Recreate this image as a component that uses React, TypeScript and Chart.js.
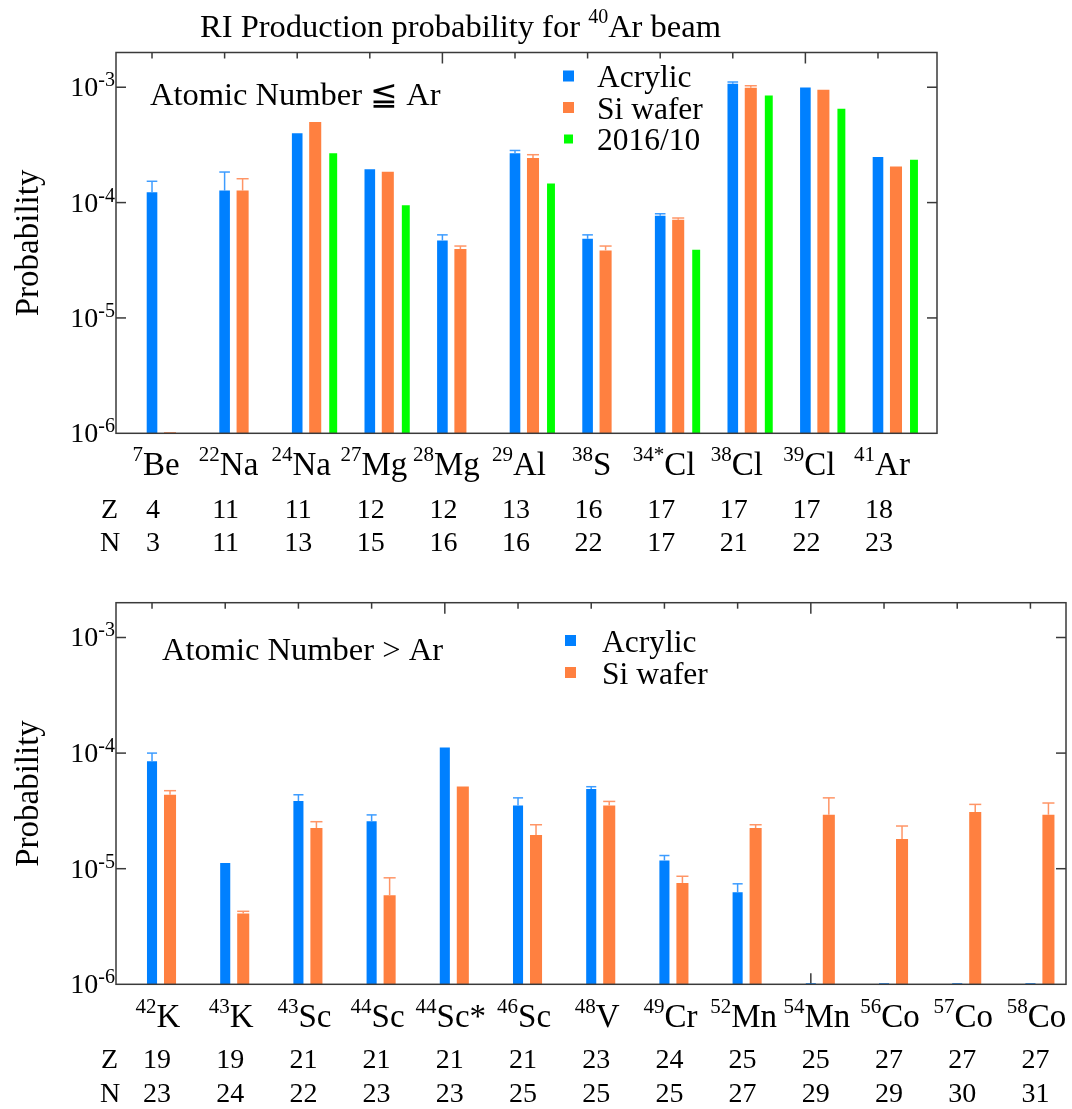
import React, { useEffect, useRef } from 'react';
import { Chart, registerables } from 'chart.js';

Chart.register(...registerables);

// ---------- data: top panel (Z <= Ar) ----------
const topMass = ['7', '22', '24', '27', '28', '29', '38', '34*', '38', '39', '41'];
const topElem = ['Be', 'Na', 'Na', 'Mg', 'Mg', 'Al', 'S', 'Cl', 'Cl', 'Cl', 'Ar'];
const topZ = [4, 11, 11, 12, 12, 13, 16, 17, 17, 17, 18];
const topN = [3, 11, 13, 15, 16, 16, 22, 17, 21, 22, 23];
const topAcrylic = [1.23e-4, 1.27e-4, 4.0e-4, 1.95e-4, 4.7e-5, 2.68e-4, 4.85e-5, 7.7e-5, 1.07e-3, 9.95e-4, 2.48e-4];
const topAcrylicErr = [1.53e-4, 1.84e-4, null, null, 5.25e-5, 2.83e-4, 5.25e-5, 8.0e-5, 1.11e-3, null, null];
const topSi = [1.02e-6, 1.27e-4, 5.0e-4, 1.85e-4, 3.95e-5, 2.43e-4, 3.85e-5, 7.1e-5, 9.9e-4, 9.5e-4, 2.06e-4];
const topSiErr = [null, 1.61e-4, null, null, 4.2e-5, 2.6e-4, 4.2e-5, 7.35e-5, 1.03e-3, null, null];
const top2016 = [null, null, 2.68e-4, 9.5e-5, null, 1.46e-4, null, 3.9e-5, 8.47e-4, 6.5e-4, 2.35e-4];

// ---------- data: bottom panel (Z > Ar) ----------
const botMass = ['42', '43', '43', '44', '44', '46', '48', '49', '52', '54', '56', '57', '58'];
const botElem = ['K', 'K', 'Sc', 'Sc', 'Sc*', 'Sc', 'V', 'Cr', 'Mn', 'Mn', 'Co', 'Co', 'Co'];
const botZ = [19, 19, 21, 21, 21, 21, 23, 24, 25, 25, 27, 27, 27];
const botN = [23, 24, 22, 23, 23, 25, 25, 25, 27, 29, 29, 30, 31];
const botAcrylic = [8.5e-5, 1.12e-5, 3.85e-5, 2.57e-5, 1.12e-4, 3.53e-5, 4.9e-5, 1.18e-5, 6.25e-6, 1.02e-6, 1.02e-6, 1.02e-6, 1.02e-6];
const botAcrylicErr = [1.0e-4, null, 4.36e-5, 2.92e-5, null, 4.1e-5, 5.12e-5, 1.3e-5, 7.4e-6, null, null, null, null];
const botSi = [4.36e-5, 4.09e-6, 2.25e-5, 5.9e-6, 5.15e-5, 1.96e-5, 3.53e-5, 7.53e-6, 2.25e-5, 2.93e-5, 1.81e-5, 3.09e-5, 2.93e-5];
const botSiErr = [4.73e-5, 4.28e-6, 2.55e-5, 8.34e-6, null, 2.4e-5, 3.82e-5, 8.6e-6, 2.4e-5, 4.1e-5, 2.34e-5, 3.6e-5, 3.7e-5];

const yExponents = [-6, -5, -4, -3];

const SERIF = "'Liberation Serif', 'Times New Roman', serif";
const BLUE = '#0080ff';
const ORANGE = '#ff8040';
const GREEN = '#00ff00';
const BLUE_ERR = '#3d9cff';
const ORANGE_ERR = '#ff9566';
const FRAME = '#3a3a3a';

type DS = { label: string; values: (number | null)[]; err: (number | null)[] | null; color: string; errColor: string; barPct: number; legendSize: number };

type Spec = {
  top: number;
  height: number;
  padding: { left: number; right: number; top: number; bottom: number };
  xMin: number;
  xMax: number;
  catPct: number;
  mass: string[];
  elem: string[];
  zs: number[];
  ns: number[];
  datasets: DS[];
  note: string;
  noteX: number;
  noteY: number;
  legendX: number;
  legendTextX: number;
  legendY: number;
  legendDy: number;
  labelY: number;
  labelOff: number;
  zY: number;
  nY: number;
  rowOff: number;
  titleY: number;
  title: boolean;
};

function drawSup(ctx: CanvasRenderingContext2D, x: number, y: number, sup: string, main: string, mainSize: number, supSize: number, rise: number, align: 'left' | 'center' | 'right') {
  ctx.font = `${supSize}px ${SERIF}`;
  const ws = ctx.measureText(sup).width;
  ctx.font = `${mainSize}px ${SERIF}`;
  const wm = ctx.measureText(main).width;
  const total = ws + wm;
  const x0 = align === 'left' ? x : align === 'center' ? x - total / 2 : x - total;
  ctx.textAlign = 'left';
  ctx.textBaseline = 'alphabetic';
  ctx.font = `${supSize}px ${SERIF}`;
  ctx.fillText(sup, x0, y - rise);
  ctx.font = `${mainSize}px ${SERIF}`;
  ctx.fillText(main, x0 + ws, y);
}

function line(ctx: CanvasRenderingContext2D, x1: number, y1: number, x2: number, y2: number) {
  ctx.beginPath();
  ctx.moveTo(x1, y1);
  ctx.lineTo(x2, y2);
  ctx.stroke();
}

function tickXs(chart: any, n: number): number[] {
  const meta = chart.getDatasetMeta(0);
  const out: number[] = [];
  for (let i = 0; i < n; i++) out.push(meta.data[i].x);
  return out;
}

function makePlugin(spec: Spec) {
  return {
    id: 'panelDecor',
    beforeDatasetsDraw(chart: any) {
      const { ctx, chartArea: a } = chart;
      const xs = tickXs(chart, spec.mass.length);
      ctx.save();
      ctx.strokeStyle = FRAME;
      ctx.lineWidth = 1.5;
      xs.forEach((x, i) => {
        if (i % 5 === 4) line(ctx, x, a.bottom, x, a.bottom - 11);
      });
      ctx.restore();
    },
    afterDatasetsDraw(chart: any) {
      const { ctx, chartArea: a, scales } = chart;
      const ys = scales.y;
      const xs = tickXs(chart, spec.mass.length);
      ctx.save();
      // error bars
      spec.datasets.forEach((ds, d) => {
        if (!ds.err) return;
        const meta = chart.getDatasetMeta(d);
        ds.err.forEach((e, i) => {
          if (e == null || ds.values[i] == null) return;
          const el = meta.data[i];
          const ye = ys.getPixelForValue(e);
          const w = el.width;
          ctx.strokeStyle = ds.errColor;
          ctx.lineWidth = 1.5;
          line(ctx, el.x, el.y, el.x, ye);
          line(ctx, el.x - w / 2, ye, el.x + w / 2, ye);
        });
      });
      // frame
      ctx.strokeStyle = FRAME;
      ctx.lineWidth = 1.5;
      ctx.strokeRect(a.left, a.top, a.right - a.left, a.bottom - a.top);
      // top ticks
      xs.forEach((x, i) => {
        line(ctx, x, a.top, x, a.top + (i % 5 === 4 ? 11 : 6));
      });
      // y ticks + labels
      ctx.fillStyle = '#000';
      yExponents.forEach((e) => {
        const y = ys.getPixelForValue(Math.pow(10, e));
        if (e !== -6) {
          line(ctx, a.left, y, a.left + 10, y);
          line(ctx, a.right - 10, y, a.right, y);
        }
        ctx.font = `20px ${SERIF}`;
        const wsup = ctx.measureText(String(e)).width;
        ctx.font = `28px ${SERIF}`;
        const w10 = ctx.measureText('10').width;
        const xr = a.left - 1;
        ctx.textAlign = 'left';
        ctx.textBaseline = 'alphabetic';
        ctx.fillText('10', xr - wsup - w10, y + 9);
        ctx.font = `20px ${SERIF}`;
        ctx.fillText(String(e), xr - wsup, y - 1);
      });
      // y title
      ctx.save();
      ctx.translate(38, (a.top + a.bottom) / 2);
      ctx.rotate(-Math.PI / 2);
      ctx.font = `33px ${SERIF}`;
      ctx.textAlign = 'center';
      ctx.textBaseline = 'alphabetic';
      ctx.fillText('Probability', 0, 0);
      ctx.restore();
      // note
      ctx.font = `32.5px ${SERIF}`;
      ctx.textAlign = 'left';
      ctx.fillText(spec.note, spec.noteX, spec.noteY);
      // legend
      spec.datasets.forEach((ds, d) => {
        const cy = spec.legendY + d * spec.legendDy;
        ctx.fillStyle = ds.color;
        const s = ds.legendSize;
        ctx.fillRect(spec.legendX + (11 - s) / 2, cy - s / 2, s, s);
        ctx.fillStyle = '#000';
        ctx.font = `31.5px ${SERIF}`;
        ctx.textAlign = 'left';
        ctx.fillText(ds.label, spec.legendTextX, cy + 11);
      });
      // category labels
      ctx.fillStyle = '#000';
      xs.forEach((x, i) => {
        drawSup(ctx, x + spec.labelOff, spec.labelY, spec.mass[i], spec.elem[i], 33, 21, 14, 'center');
        ctx.font = `28px ${SERIF}`;
        ctx.textAlign = 'center';
        ctx.fillText(String(spec.zs[i]), x + spec.rowOff, spec.zY);
        ctx.fillText(String(spec.ns[i]), x + spec.rowOff, spec.nY);
      });
      ctx.font = `28px ${SERIF}`;
      ctx.textAlign = 'left';
      ctx.fillText('Z', 101, spec.zY);
      ctx.fillText('N', 100, spec.nY);
      // title
      if (spec.title) {
        ctx.font = `32.5px ${SERIF}`;
        const t1 = 'RI Production probability for ';
        const w1 = ctx.measureText(t1).width;
        ctx.fillText(t1, 200, spec.titleY);
        drawSup(ctx, 200 + w1, spec.titleY, '40', 'Ar beam', 32.5, 20, 14, 'left');
      }
      ctx.restore();
    },
  };
}

function buildConfig(spec: Spec): any {
  const n = spec.mass.length;
  return {
    type: 'bar',
    data: {
      datasets: spec.datasets.map((ds) => ({
        label: ds.label,
        data: ds.values.map((v, i) => ({ x: i, y: v })),
        backgroundColor: ds.color,
        borderWidth: 0,
        barPercentage: ds.barPct,
        categoryPercentage: spec.catPct,
      })),
    },
    options: {
      responsive: false,
      animation: false,
      devicePixelRatio: 1,
      layout: { padding: spec.padding },
      plugins: { legend: { display: false }, title: { display: false }, tooltip: { enabled: false } },
      scales: {
        x: {
          type: 'linear',
          min: spec.xMin,
          max: spec.xMax,
          offset: false,
          display: false,
          afterBuildTicks: (scale: any) => {
            scale.ticks = Array.from({ length: n }, (_, i) => ({ value: i }));
          },
        },
        y: {
          type: 'logarithmic',
          min: 1e-6,
          max: 2e-3,
          display: false,
        },
      },
    },
    plugins: [makePlugin(spec)],
  };
}

const topSpec: Spec = {
  top: 0,
  height: 560,
  padding: { left: 116, right: 135, top: 52.5, bottom: 126.7 },
  xMin: -0.744,
  xMax: 10.565,
  catPct: 54 / 72.6,
  mass: topMass,
  elem: topElem,
  zs: topZ,
  ns: topN,
  datasets: [
    { label: 'Acrylic', values: topAcrylic, err: topAcrylicErr, color: BLUE, errColor: BLUE_ERR, barPct: 0.59, legendSize: 11 },
    { label: 'Si wafer', values: topSi, err: topSiErr, color: ORANGE, errColor: ORANGE_ERR, barPct: 0.67, legendSize: 11 },
    { label: '2016/10', values: top2016, err: null, color: GREEN, errColor: GREEN, barPct: 0.44, legendSize: 9 },
  ],
  note: 'Atomic Number \u2266 Ar',
  noteX: 150,
  noteY: 105,
  legendX: 563,
  legendTextX: 597,
  legendY: 76,
  legendDy: 31.5,
  labelY: 475,
  labelOff: 4,
  zY: 518,
  nY: 551,
  rowOff: 1,
  titleY: 37,
  title: true,
};

const botSpec: Spec = {
  top: 560,
  height: 549,
  padding: { left: 116, right: 6, top: 42.7, bottom: 124.7 },
  xMin: -0.615,
  xMax: 12.363,
  catPct: 36 / 73.2,
  mass: botMass,
  elem: botElem,
  zs: botZ,
  ns: botN,
  datasets: [
    { label: 'Acrylic', values: botAcrylic, err: botAcrylicErr, color: BLUE, errColor: BLUE_ERR, barPct: 0.56, legendSize: 11 },
    { label: 'Si wafer', values: botSi, err: botSiErr, color: ORANGE, errColor: ORANGE_ERR, barPct: 0.67, legendSize: 11 },
  ],
  note: 'Atomic Number > Ar',
  noteX: 162,
  noteY: 100,
  legendX: 565,
  legendTextX: 602,
  legendY: 80.5,
  legendDy: 32,
  labelY: 467,
  labelOff: 6,
  zY: 508,
  nY: 542,
  rowOff: 5,
  titleY: 0,
  title: false,
};

function Panel({ spec }: { spec: Spec }) {
  const ref = useRef<HTMLCanvasElement>(null);
  useEffect(() => {
    const chart = new Chart(ref.current as HTMLCanvasElement, buildConfig(spec));
    return () => chart.destroy();
  }, [spec]);
  return (
    <canvas
      ref={ref}
      width={1072}
      height={spec.height}
      style={{ position: 'absolute', left: 0, top: spec.top, width: 1072, height: spec.height, display: 'block' }}
    />
  );
}

export default function App() {
  return (
    <div style={{ position: 'absolute', left: 0, top: 0, width: 1072, height: 1109, background: '#fff', overflow: 'hidden' }}>
      <Panel spec={topSpec} />
      <Panel spec={botSpec} />
    </div>
  );
}
